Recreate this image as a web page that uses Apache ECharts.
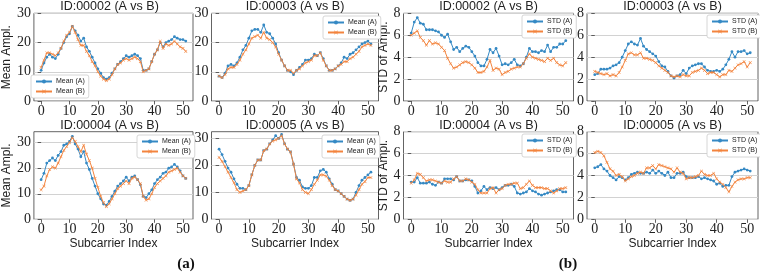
<!DOCTYPE html>
<html>
<head>
<meta charset="utf-8">
<script src="https://cdn.jsdelivr.net/npm/echarts@6/dist/echarts.min.js"></script>
<style>html,body{margin:0;padding:0;background:#fff;}#c{width:760px;height:272px;}</style>
</head>
<body>
<div id="c"></div>
<script>
// ---------- data ----------
const xTicks = [0, 10, 20, 30, 40, 50];
const meanTicks = [0, 10, 20, 30];
const stdTicks = [0, 2, 4, 6, 8];
const titles = ["ID:00002 (A vs B)", "ID:00003 (A vs B)", "ID:00004 (A vs B)", "ID:00005 (A vs B)"];
const meanNames = ["Mean (A)", "Mean (B)"];
const stdNames = ["STD (A)", "STD (B)"];

const mean00002A = [10.5,13,15,16,15,14.5,16,18,20,22,23,25.5,24,22.5,20.5,21.5,18.5,17,15,13,11,9.5,8,7.5,8,9.5,11,12.5,13.5,14.5,15.5,15,15.5,16,15.5,14.5,10.5,10.5,11,13.5,16,17.5,20,18.5,20,20.5,21,22,21.5,21,21,20.5];
const mean00002B = [11.5,14,16.5,16.5,16,15.5,16.5,18,20.5,22.5,23.5,25.5,23.5,21,19,19,17,15.5,13.5,12,10,8.5,7.5,7,7.5,9,11,12.5,13,14,14.5,14,14.5,15,14.5,13.5,10,10.5,11,13.5,16,17.5,20.5,18,19.5,19,19.5,20.5,19.5,18.5,18,17];
const mean00003A = [8.5,8,9.5,12,12.5,12,13,15,17.5,19,21.5,24,24.5,24.5,23.5,26,23.5,23,21.5,19.5,16.5,14,12,10.5,10,9,10.5,11.5,12.5,14,14,14.5,16,15.5,16.5,14.5,12,10.5,10.5,11,12,13,15,14.5,16,16.5,17.5,18.5,19.5,20,20.5,19.5];
const mean00003B = [8.5,8,9,11,11.5,11.5,12.5,14,16,17.5,19.5,21.5,22,22.5,21.5,23.5,21.5,21,20,18.5,16,14,12,10.5,10.5,9.5,10.5,11,12,13,13.5,14,15.5,15.5,16.5,14,12,10.5,10.5,11,12,12.5,13.5,13.5,14.5,15,16,17,18.5,19,19.5,19];
const mean00004A = [15.5,18,22,23,24,23,25,26.5,29,29.5,30.5,32.5,29.5,27.5,24.5,26.5,22,19.5,16,13,10,8,6,5.5,7,9,11,13,14,15,16.5,15,16.5,17,15.5,13.5,9,8.5,10,11.5,14,15.5,16.5,18,18.5,20,20.5,21.5,20.5,19,17,16];
const mean00004B = [11.5,13,17,19.5,20.5,20,22,24.5,27,28.5,30,32,30.5,28.5,26.5,29,25.5,23,20,16,12.5,9,6.5,5,6,8,10,12,13,14,15,14,16,16.5,15.5,14,9,7.5,8,10,12.5,14,15,16,17,18.5,19,19.5,20,18.5,17,16];
const mean00005A = [26,24,21.5,19,17.5,15,13,11.5,11.5,11,12.5,16.5,20,22,22,25.5,26,28,29.5,31,30,31.5,28,26,25,20.5,15.5,14.5,12,11.5,11.5,12.5,15.5,15.5,18,18.5,17.5,15,13,11,10.5,9.5,8.5,7.5,7,7.5,10,12.5,14.5,15.5,16.5,17.5];
const mean00005B = [23,21.5,19.5,17.5,15.5,13.5,11,10,10.5,11,12.5,16.5,20,22,22,25.5,26,28,29,29.5,30,31,28,26,25,20.5,15,13.5,11,10,9.5,11,13,14.5,16.5,16.5,16,14.5,12.5,11,10.5,9.5,8.5,7.5,7,7.5,9,11,13,14,15.5,15.5];

const std00002A = [6.2,7.2,7.6,7.1,7.0,6.5,6.5,6.5,6.4,6.3,6.0,5.8,6.1,5.4,4.7,4.9,4.5,4.8,5.0,4.9,4.5,4.1,3.5,3.2,3.2,3.8,4.7,4.4,4.8,4.1,3.3,3.4,3.3,3.5,3.8,3.3,3.2,3.4,4.0,4.8,4.5,4.5,4.4,4.6,4.5,5.1,4.5,4.9,4.9,5.2,5.2,5.5];
const std00002B = [6.0,6.2,6.4,5.8,5.5,5.1,5.5,5.2,5.3,5.2,4.9,4.6,3.9,3.4,3.0,3.1,3.3,3.5,3.6,3.5,3.3,3.0,2.6,2.6,2.7,3.1,3.7,2.8,3.0,2.9,2.4,2.6,2.7,2.9,3.0,3.1,3.1,3.4,3.9,4.3,4.0,3.9,3.8,3.7,3.6,3.9,3.7,3.9,3.5,3.3,3.2,3.5];
const std00003A = [2.4,2.5,2.9,2.9,2.9,3.0,3.2,3.3,3.5,4.0,4.6,5.2,5.4,5.2,5.1,5.7,5.0,4.7,4.5,4.3,4.1,3.6,3.2,3.1,2.7,2.3,2.1,2.3,2.4,2.8,2.5,3.0,3.2,3.3,3.4,3.4,3.1,2.8,2.7,2.7,2.8,2.7,2.9,3.3,3.8,4.5,4.0,4.5,4.5,4.6,4.3,4.4];
const std00003B = [2.7,2.6,2.5,2.4,2.5,2.3,2.4,2.3,2.6,3.1,3.7,4.3,4.4,4.2,4.2,4.4,3.9,3.9,3.8,3.7,3.5,3.2,3.0,2.8,2.6,2.3,2.2,2.3,2.2,2.4,2.3,2.3,2.6,2.7,2.8,3.0,2.8,2.5,2.6,2.6,2.4,2.2,2.4,2.4,2.8,2.7,3.0,3.3,3.4,3.6,3.1,3.5];
const std00004A = [3.4,3.4,3.8,3.3,3.3,3.3,3.4,3.2,3.1,3.4,3.3,3.7,3.7,3.7,3.6,3.9,3.5,3.5,3.6,3.6,3.5,3.0,2.4,2.6,3.0,2.7,2.9,2.8,2.9,2.7,2.9,3.1,3.1,3.2,3.0,2.4,2.3,2.4,2.5,2.8,2.6,2.5,2.3,2.2,2.3,2.4,2.5,2.6,2.7,2.7,2.5,2.5];
const std00004B = [3.3,3.6,4.2,4.1,3.8,3.5,3.6,3.6,3.5,3.4,3.3,3.5,3.4,3.4,3.7,3.9,3.5,3.5,3.7,3.6,3.4,3.2,2.7,2.4,2.4,2.4,2.8,2.9,2.4,2.7,2.8,3.1,3.2,3.2,3.3,3.3,2.8,2.9,3.2,3.5,3.1,2.9,2.9,2.9,2.8,2.8,2.6,2.4,2.6,2.8,2.8,2.9];
const std00005A = [4.7,4.8,5.0,4.6,4.4,4.0,3.8,3.6,3.9,3.8,3.6,3.8,4.1,4.2,4.3,4.2,4.2,4.3,4.2,4.5,4.2,4.4,4.2,4.0,4.3,3.8,3.8,4.2,4.2,4.3,3.9,3.8,3.8,3.8,3.9,3.7,3.8,3.7,3.6,3.5,3.2,3.3,3.0,3.1,3.1,3.9,4.3,4.4,4.5,4.6,4.5,4.4];
const std00005B = [6.1,6.2,6.1,5.8,5.2,4.6,4.4,4.0,4.1,3.9,3.5,3.7,3.9,4.0,4.2,4.3,4.2,4.7,4.7,4.9,4.6,5.0,4.9,4.8,4.7,4.6,4.3,4.7,4.3,4.2,3.7,3.8,3.8,3.9,4.0,4.4,4.1,4.0,4.0,4.2,3.7,3.4,3.2,2.9,2.5,3.0,3.4,3.6,3.7,3.7,3.8,3.8];

// ---------- layout / style ----------
const BLUE = '#3589c4', ORANGE = '#f3843e';
const SERIF = "Liberation Serif";
const SANS = "Liberation Sans";
const XMARK = 'path://M0,1.2L1.2,0L5,3.8L8.8,0L10,1.2L6.2,5L10,8.8L8.8,10L5,6.2L1.2,10L0,8.8L3.8,5Z';

const panels = [
  {a: mean00002A, b: mean00002B, names: meanNames, title: titles[0], ticks: meanTicks, ymax: 30,  left: 26,    top: 13.3,  w: 167, h: 87.7, yName: 'Mean Ampl.', yGap: 14, xName: '', leg: [31, 75]},
  {a: mean00003A, b: mean00003B, names: meanNames, title: titles[1], ticks: meanTicks, ymax: 30,  left: 211.5, top: 13.3,  w: 167, h: 87.7, yName: '', xName: '', leg: [323, 16]},
  {a: mean00004A, b: mean00004B, names: meanNames, title: titles[2], ticks: meanTicks, ymax: 34.3,left: 26,    top: 131.7, w: 167, h: 87.6, yName: 'Mean Ampl.', yGap: 14, xName: 'Subcarrier Index', leg: [137, 135]},
  {a: mean00005A, b: mean00005B, names: meanNames, title: titles[3], ticks: meanTicks, ymax: 32.5,left: 211.5, top: 131.7, w: 167, h: 87.6, yName: '', xName: 'Subcarrier Index', leg: [322, 135]},
  {a: std00002A,  b: std00002B,  names: stdNames,  title: titles[0], ticks: stdTicks,  ymax: 8,   left: 403.5, top: 13.3,  w: 170, h: 87.7, yName: 'STD of Ampl.', yGap: 11, xName: '', leg: [522, 15]},
  {a: std00003A,  b: std00003B,  names: stdNames,  title: titles[1], ticks: stdTicks,  ymax: 8,   left: 587,   top: 13.3,  w: 171, h: 87.7, yName: '', xName: '', leg: [707, 15]},
  {a: std00004A,  b: std00004B,  names: stdNames,  title: titles[2], ticks: stdTicks,  ymax: 8,   left: 403.5, top: 131.7, w: 170, h: 87.6, yName: 'STD of Ampl.', yGap: 11, xName: 'Subcarrier Index', leg: [522, 134]},
  {a: std00005A,  b: std00005B,  names: stdNames,  title: titles[3], ticks: stdTicks,  ymax: 8,   left: 587,   top: 131.7, w: 171, h: 87.6, yName: '', xName: 'Subcarrier Index', leg: [707, 134]}
];

const grid = [], xAxis = [], yAxis = [], series = [], legend = [], graphic = [];
panels.forEach((p, k) => {
  grid.push({left: p.left, top: p.top, width: p.w, height: p.h, show: true, borderColor: '#3c3c3c', borderWidth: 0.8, backgroundColor: 'transparent', containLabel: false});
  xAxis.push({
    type: 'value', gridIndex: k, min: -2.55, max: 53.55,
    axisLine: {show: false},
    axisTick: {show: true, length: 3.5, lineStyle: {color: '#3c3c3c', width: 0.8}, customValues: xTicks},
    axisLabel: {customValues: xTicks, fontFamily: SERIF, fontSize: 14, color: '#222', margin: 3},
    splitLine: {show: false},
    name: p.xName, nameLocation: 'middle', nameGap: 15,
    nameTextStyle: {fontFamily: SANS, fontSize: 12, color: '#222'}
  });
  yAxis.push({
    type: 'value', gridIndex: k, min: 0, max: p.ymax,
    axisLine: {show: false},
    axisTick: {show: true, length: 3.5, lineStyle: {color: '#3c3c3c', width: 0.8}, customValues: p.ticks},
    axisLabel: {customValues: p.ticks, fontFamily: SERIF, fontSize: 14, color: '#222', margin: 3},
    splitLine: {show: true, lineStyle: {color: '#d2d2d2', width: 1}},
    name: p.yName, nameLocation: 'middle', nameGap: p.yGap || 10, nameRotate: 90,
    nameTextStyle: {fontFamily: SANS, fontSize: 12, color: '#222'}
  });
  series.push({
    type: 'line', name: p.names[0], xAxisIndex: k, yAxisIndex: k,
    data: p.a.map((v, i) => [i, v]),
    symbol: 'circle', symbolSize: 2.8, showSymbol: true,
    itemStyle: {color: BLUE}, lineStyle: {color: BLUE, width: 1}, animation: false, z: 3
  });
  series.push({
    type: 'line', name: p.names[1], xAxisIndex: k, yAxisIndex: k,
    data: p.b.map((v, i) => [i, v]),
    symbol: XMARK, symbolSize: 3.2, showSymbol: true,
    itemStyle: {color: ORANGE}, lineStyle: {color: ORANGE, width: 1}, animation: false, z: 4
  });
  legend.push({
    data: p.names, orient: 'vertical', left: p.leg[0], top: p.leg[1],
    itemWidth: 16, itemHeight: 5, itemGap: 3,
    padding: [3, 4, 3, 4], backgroundColor: '#fff', borderColor: '#cccccc', borderWidth: 0.8, borderRadius: 2,
    textStyle: {fontFamily: SANS, fontSize: 7, color: '#222', padding: [0, 0, 0, -1]},
    selectedMode: false
  });
  graphic.push({
    type: 'text', x: p.left + p.w / 2, y: p.top - 6.5,
    style: {text: p.title, fontFamily: SANS, fontSize: 12.5, fill: '#222', textAlign: 'center', textVerticalAlign: 'middle'}
  });
});
graphic.push({type: 'text', x: 186, y: 264, style: {text: '(a)', fontFamily: SERIF, fontSize: 15, fontWeight: 'bold', fill: '#111', textAlign: 'center', textVerticalAlign: 'middle'}});
graphic.push({type: 'text', x: 568, y: 264, style: {text: '(b)', fontFamily: SERIF, fontSize: 15, fontWeight: 'bold', fill: '#111', textAlign: 'center', textVerticalAlign: 'middle'}});

const chart = echarts.init(document.getElementById('c'), null, {renderer: 'canvas'});
chart.setOption({animation: false, backgroundColor: '#fff', grid, xAxis, yAxis, series, legend, graphic});
</script>
</body>
</html>
